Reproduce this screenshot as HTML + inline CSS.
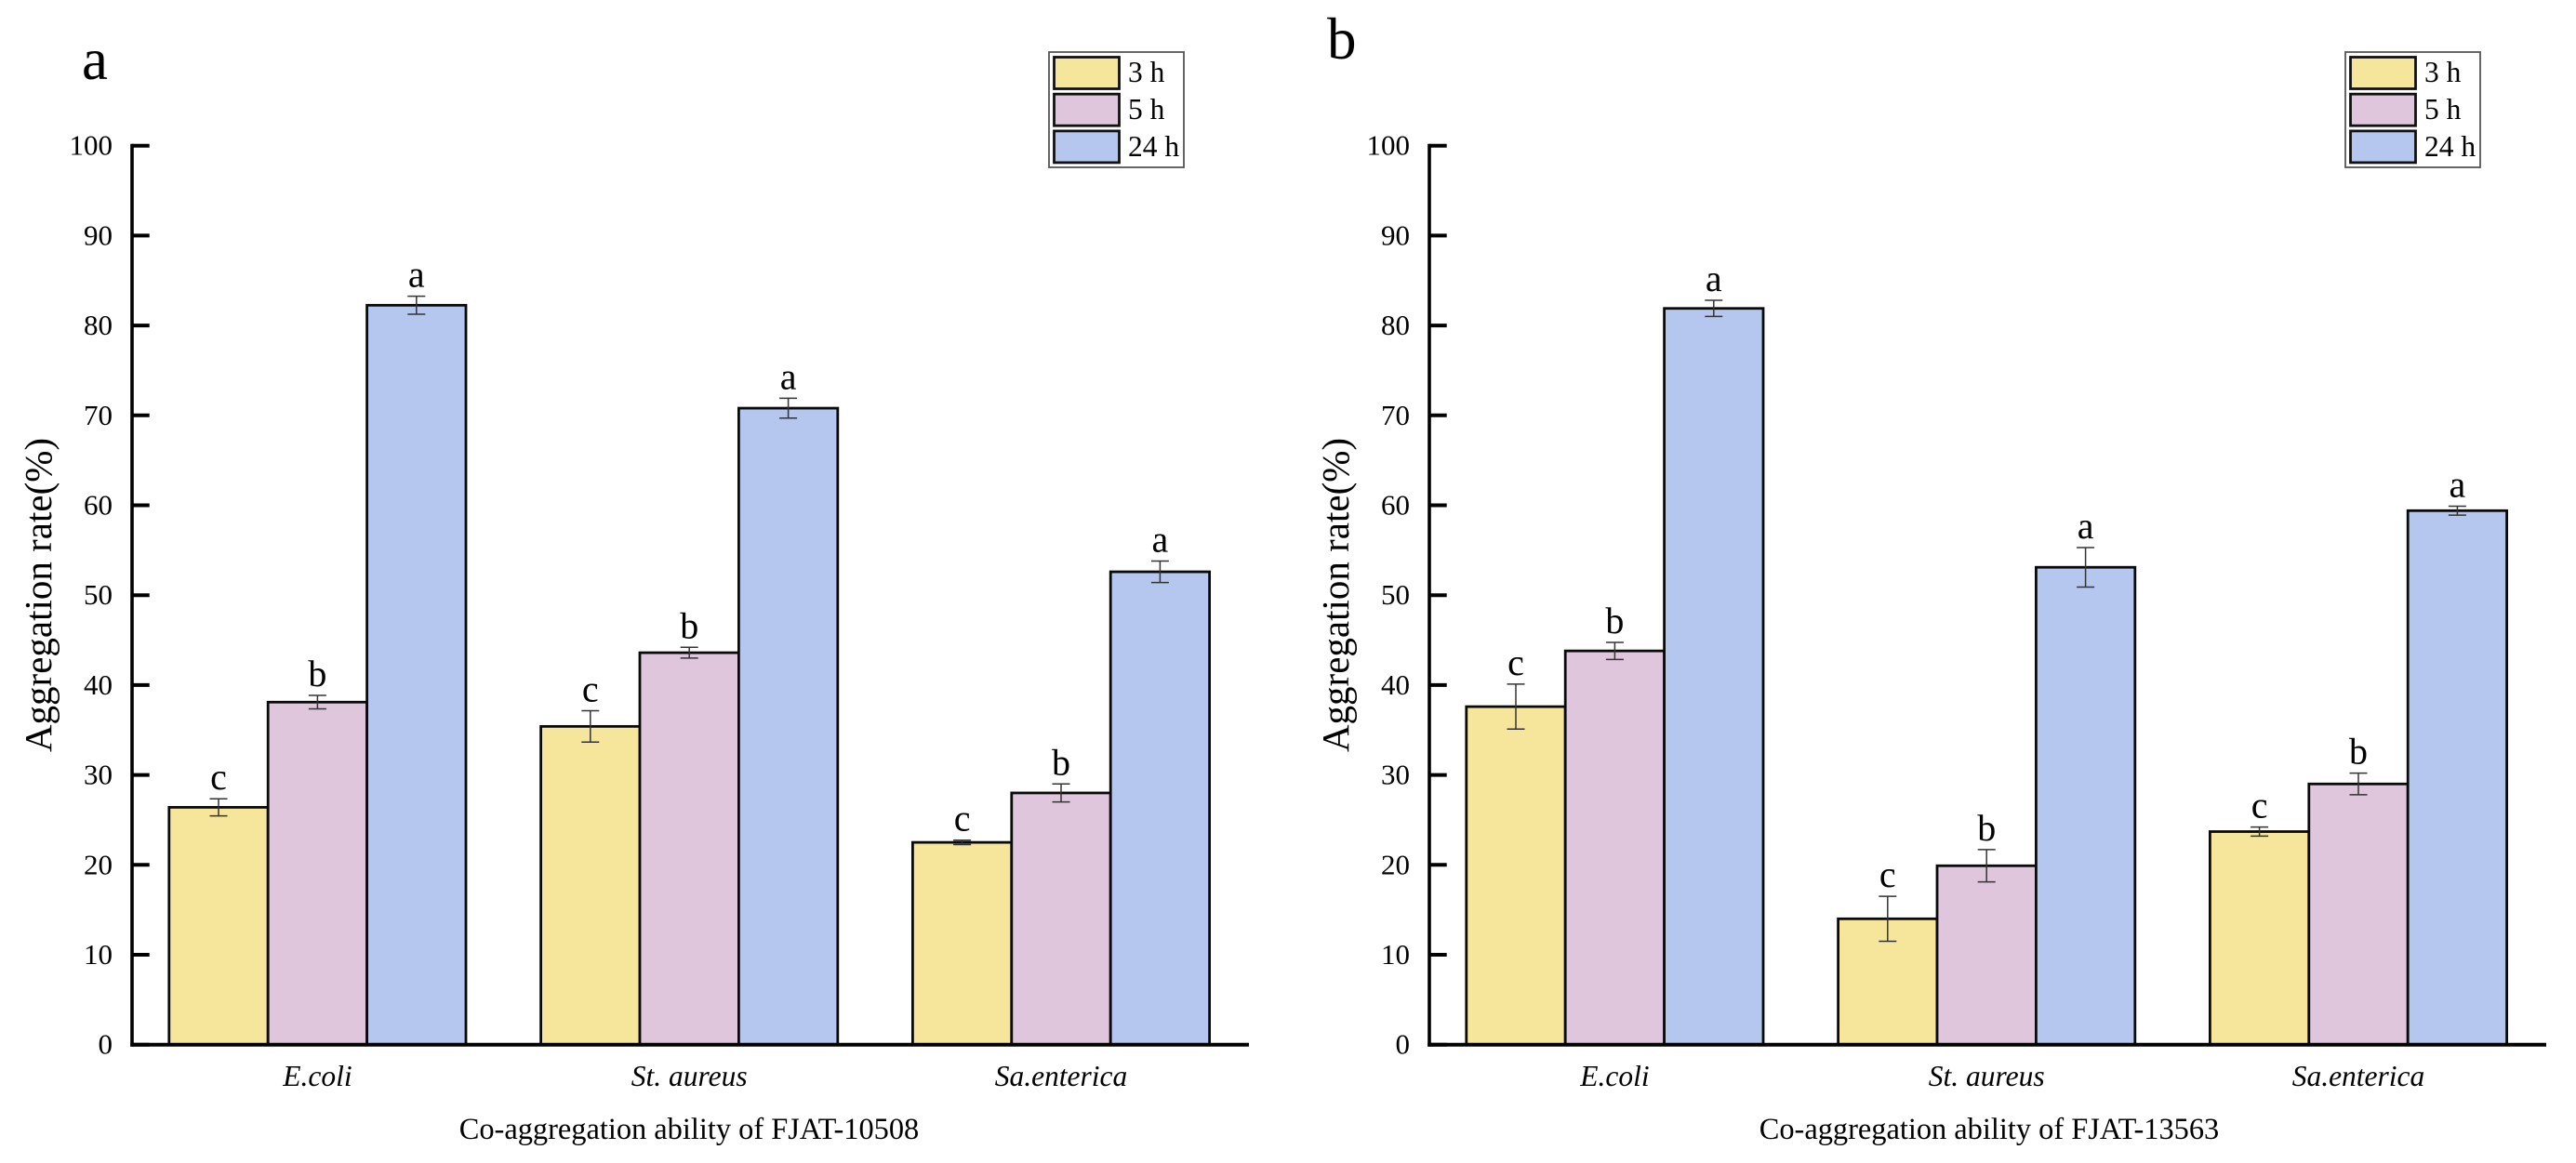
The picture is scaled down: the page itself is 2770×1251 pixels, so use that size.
<!DOCTYPE html>
<html lang="en">
<head>
<meta charset="utf-8">
<title>Co-aggregation ability of FJAT-10508 and FJAT-13563</title>
<style>
html,body{margin:0;padding:0;background:#fff;width:2770px;height:1251px;overflow:hidden}
svg{display:block}
text{font-family:"Liberation Serif","Times New Roman",serif;fill:#000}
</style>
</head>
<body>
<svg id="chart" xmlns="http://www.w3.org/2000/svg" width="2770" height="1251" viewBox="0 0 2770 1251"></svg>
<script>
const categories = ['E.coli', 'St. aureus', 'Sa.enterica'];
const seriesNames = ['3 h', '5 h', '24 h'];
const seriesColors = ['#F6E69B', '#DFC6DD', '#B5C7EE'];
const tickValues = [0, 10, 20, 30, 40, 50, 60, 70, 80, 90, 100];
const significance = ['c', 'b', 'a'];

const panelA3h = [26.4, 35.4, 22.5];
const panelA5h = [38.1, 43.6, 28.0];
const panelA24h = [82.25, 70.8, 52.6];
const panelA3hErr = [0.95, 1.75, 0.25];
const panelA5hErr = [0.75, 0.6, 1.0];
const panelA24hErr = [1.0, 1.1, 1.2];

const panelB3h = [37.6, 14.0, 23.7];
const panelB5h = [43.8, 19.9, 29.0];
const panelB24h = [81.9, 53.1, 59.4];
const panelB3hErr = [2.5, 2.5, 0.5];
const panelB5hErr = [0.95, 1.8, 1.2];
const panelB24hErr = [0.9, 2.2, 0.5];

const svg = document.getElementById('chart');
const NS = 'http://www.w3.org/2000/svg';

function make(tag, props, parent, content) {
  const el = document.createElementNS(NS, tag);
  for (const k in props) el.setAttribute(k, props[k]);
  if (content !== undefined) el.textContent = content;
  parent.appendChild(el);
  return el;
}

function drawPanel(letter, dx, letterX, letterY, xTitle, xTitleX, values, errors) {
  const g = make('g', {}, svg);
  
  

  const yZero = 1123.7, yPerUnit = 9.67;
  const axisLeft = 142 + dx, bandWidth = 399.8, barWidth = 106.4;
  const yScale = v => yZero - v * yPerUnit;
  const bandCenter = i => axisLeft - 0.5 + bandWidth * (i + 0.5);
  const barLeft = (i, s) => bandCenter(i) - barWidth * 1.5 + barWidth * s;

  const panelLetter = make('text', {x: letterX, y: letterY, 'font-size': 63}, g, letter);
  
  

  // bars, error bars, significance letters
  categories.forEach((cat, i) => {
    values.forEach((vals, s) => {
      const v = vals[i];
      const x = barLeft(i, s);
      const bar = make('rect', {x: x, y: yScale(v), width: barWidth, height: yZero - yScale(v),
        fill: seriesColors[s], stroke: '#0a0a0a', 'stroke-width': 2.8}, g);
      
      
    });
  });
  categories.forEach((cat, i) => {
    values.forEach((vals, s) => {
      const v = vals[i], e = errors[s][i];
      const cx = barLeft(i, s) + barWidth / 2;
      const top = yScale(v + e), bot = yScale(v - e);
      const err = make('path', {d: 'M' + (cx - 9.5) + ' ' + top + 'H' + (cx + 9.5) + 'M' + cx + ' ' + top + 'V' + bot + 'M' + (cx - 9.5) + ' ' + bot + 'H' + (cx + 9.5),
        fill: 'none', stroke: '#333', 'stroke-width': 1.5}, g);
      
      
      const sig = make('text', {x: cx, y: top - 10, 'font-size': 40, 'text-anchor': 'middle'}, g, significance[s]);
      
      
    });
  });

  // y axis
  const yAxis = make('line', {x1: axisLeft, x2: axisLeft, y1: yScale(100) - 2, y2: yZero + 2, stroke: '#000', 'stroke-width': 3.6}, g);
  
  
  tickValues.forEach(t => {
    const tick = make('line', {x1: axisLeft, x2: axisLeft + 18.7, y1: yScale(t), y2: yScale(t), stroke: '#000', 'stroke-width': 4}, g);
    
    
    const label = make('text', {x: axisLeft - 21, y: yScale(t) + 10, 'font-size': 31, 'text-anchor': 'end'}, g, String(t));
    
    
  });

  // x axis
  const xAxis = make('line', {x1: axisLeft - 1.8, x2: axisLeft + 1201, y1: yZero, y2: yZero, stroke: '#000', 'stroke-width': 4}, g);
  
  
  categories.forEach((cat, i) => {
    const label = make('text', {x: bandCenter(i), y: 1168, 'font-size': 31.5, 'font-style': 'italic', 'text-anchor': 'middle'}, g, cat);
    
    
  });

  const xT = make('text', {x: xTitleX, y: 1225, 'font-size': 32.4, 'text-anchor': 'middle'}, g, xTitle);
  
  

  const yT = make('text', {transform: 'translate(' + (55 + dx) + ' 640) rotate(-90)', 'font-size': 41, 'text-anchor': 'middle'}, g, 'Aggregation rate(%)');
  
  

  // legend
  const legend = make('g', {}, g);
  
  
  make('rect', {x: 1128 + dx - (dx ? 1 : 0), y: 56, width: 145, height: 124, fill: '#fff', stroke: '#555', 'stroke-width': 1.8}, legend);
  seriesNames.forEach((name, s) => {
    const entry = make('g', {}, legend);
    
    
    make('rect', {x: 1133.5 + dx - (dx ? 1 : 0), y: 61.5 + s * 39.7, width: 70, height: 34, fill: seriesColors[s], stroke: '#111', 'stroke-width': 2.8}, entry);
    make('text', {x: 1213 + dx - (dx ? 1 : 0), y: 88 + s * 40, 'font-size': 31.5}, entry, name);
  });
}

drawPanel('a', 0, 88, 85, 'Co-aggregation ability of FJAT-10508', 741,
  [panelA3h, panelA5h, panelA24h], [panelA3hErr, panelA5hErr, panelA24hErr]);
drawPanel('b', 1395, 1427, 63, 'Co-aggregation ability of FJAT-13563', 2139,
  [panelB3h, panelB5h, panelB24h], [panelB3hErr, panelB5hErr, panelB24hErr]);
</script>
</body>
</html>
